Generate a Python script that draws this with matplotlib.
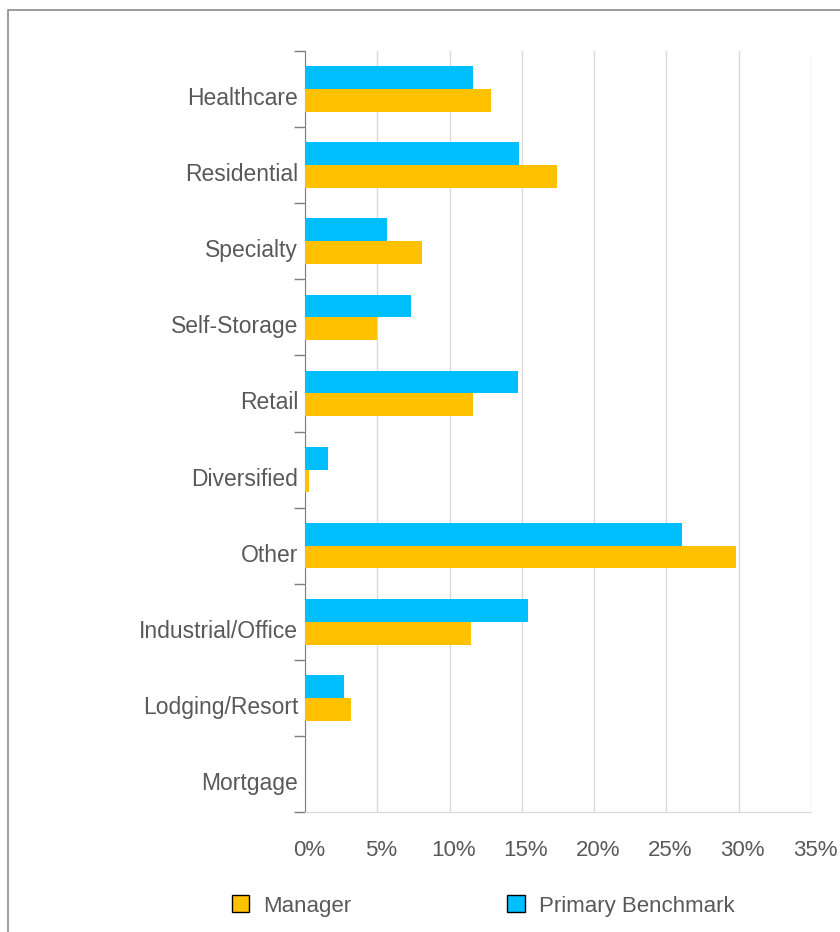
import matplotlib
matplotlib.use("Agg")
import matplotlib.pyplot as plt
import matplotlib.transforms as mtransforms
import numpy as np
from matplotlib.patches import Rectangle, Patch

plt.rcParams['font.family'] = ['Liberation Sans', 'DejaVu Sans']

categories = ["Healthcare", "Residential", "Specialty", "Self-Storage", "Retail",
              "Diversified", "Other", "Industrial/Office", "Lodging/Resort", "Mortgage"]
manager = [12.9, 17.4, 8.1, 5.0, 11.6, 0.3, 29.8, 11.5, 3.2, 0.0]
benchmark = [11.6, 14.8, 5.7, 7.3, 14.7, 1.6, 26.1, 15.4, 2.7, 0.0]
xticks = [0, 5, 10, 15, 20, 25, 30, 35]
xticklabels = ["0%", "5%", "10%", "15%", "20%", "25%", "30%", "35%"]

c_man = "#FFC000"
c_ben = "#00BFFF"
txt = "#595959"

fig = plt.figure(figsize=(8.4, 9.32), dpi=100)
ax = fig.add_axes([305/840, 1-812/932, (811-305)/840, (812-51)/932])

y = np.arange(len(categories))
h = 0.30
ax.barh(y - h/2, benchmark, height=h, color=c_ben, zorder=3)
ax.barh(y + h/2, manager, height=h, color=c_man, zorder=3)

ax.set_ylim(len(categories) - 0.5, -0.5)
ax.set_xlim(0, 35)
ax.set_xticks(xticks)
ax.set_xticklabels(xticklabels)
ax.set_yticks(y)
ax.set_yticklabels(categories)
ax.set_yticks(np.arange(-0.5, len(categories), 1), minor=True)
ax.tick_params(axis='y', which='major', length=0, pad=5, labelsize=16.5, labelcolor=txt)
ax.tick_params(axis='y', which='minor', length=8, color="#7f7f7f", width=1)
ax.tick_params(axis='x', length=0, pad=20, labelsize=16, labelcolor=txt)

# shift tick labels to match reference placement
dy = mtransforms.ScaledTranslation(0, -7/100, fig.dpi_scale_trans)
for lab in ax.get_yticklabels():
    lab.set_transform(lab.get_transform() + dy)
dx = mtransforms.ScaledTranslation(4/100, 0, fig.dpi_scale_trans)
for lab in ax.get_xticklabels():
    lab.set_transform(lab.get_transform() + dx)

ax.grid(axis='x', color="#d9d9d9", linewidth=1, zorder=0)
ax.set_axisbelow(True)
for s in ['top', 'right']:
    ax.spines[s].set_visible(False)
ax.spines['left'].set_color("#7f7f7f")
ax.spines['bottom'].set_color("#d9d9d9")

handles = [Patch(facecolor=c_man, edgecolor="black", linewidth=1, label="Manager"),
           Patch(facecolor=c_ben, edgecolor="black", linewidth=1, label="Primary Benchmark")]
leg = fig.legend(handles=handles, loc='center', bbox_to_anchor=(483/840, 1-906/932),
                 ncol=2, frameon=False, fontsize=16, handlelength=0.8, handleheight=0.8,
                 handletextpad=0.63, columnspacing=7.0, labelcolor=txt)

fig.patches.append(Rectangle((8/840, -0.05), 1.1, 1 - 10/932 + 0.05, transform=fig.transFigure,
                             fill=False, edgecolor="#8c8c8c", linewidth=1.2))

fig.savefig("out.png", dpi=100, facecolor="white")
